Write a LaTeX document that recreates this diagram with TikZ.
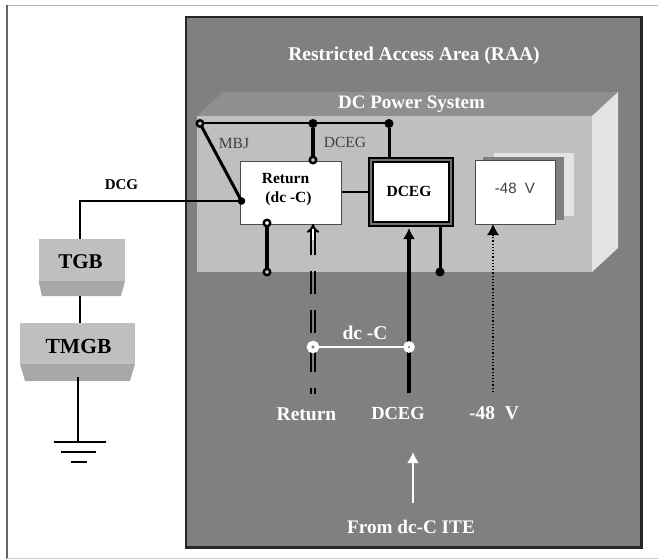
\documentclass[tikz,border=0pt]{standalone}
\usepackage{fontspec}
\setmainfont{Liberation Serif}
\newfontfamily\labelsans{Liberation Sans}
\usetikzlibrary{arrows.meta}
\definecolor{panelgray}{gray}{0.50}
\definecolor{lidgray}{gray}{0.56}
\definecolor{frontgray}{gray}{0.75}
\definecolor{sidegray}{gray}{0.89}
\definecolor{barfront}{gray}{0.75}
\definecolor{barlip}{gray}{0.66}
\tikzset{
  whitelabel/.style={text=white,font=\fontsize{#1}{#1}\selectfont\bfseries,inner sep=0pt},
  blacklabel/.style={text=black,font=\fontsize{#1}{#1}\selectfont\bfseries,inner sep=0pt},
  thinlabel/.style={text=black!75,font=\fontsize{#1}{#1}\selectfont,inner sep=0pt},
  wire/.style={black,line width=2pt},
  heavywire/.style={black,line width=3.4pt},
  pin/.style={circle,draw=black,fill=frontgray,line width=2.4pt,minimum size=6.5pt,inner sep=0pt},
  whitepin/.style={circle,draw=white,fill=panelgray,line width=4.4pt,minimum size=8pt,inner sep=0pt},
  plainbox/.style={draw=black!70,fill=white,line width=1pt,inner sep=0pt,anchor=north west},
  feedline/.style={black,line width=2pt,dash pattern=on 23pt off 16pt,dash phase=17pt},
}
\begin{document}
\begin{tikzpicture}[x=1pt,y=-1pt]
\useasboundingbox (0,0) rectangle (658,559);
% page frame
\draw[black!30,line width=1pt] (658,5.5) -- (7,5.5);
\draw[black!60,line width=1.2pt] (7,5.5) -- (7,559);
\draw[black!20,line width=1pt] (7,558) -- (658,558);
% restricted area
\draw[fill=panelgray,draw=black!85,line width=2.4pt] (186,17) rectangle (641.5,547.5);
\node[whitelabel=19.5] (raa) at (414,56) {Restricted Access Area (RAA)};
% cabinet
\fill[lidgray] (197,116) -- (223,92) -- (618,92) -- (592,116) -- cycle;
\fill[frontgray] (197,116) rectangle (592,272);
\fill[sidegray] (592,116) -- (618,92) -- (618,248) -- (592,272) -- cycle;
\node[whitelabel=19] (dcps) at (411.5,104) {DC Power System};
% ground bars
\fill[barfront] (38.5,239) rectangle (125,281);
\fill[barlip] (38.5,281) -- (125,281) -- (121,296) -- (42,296) -- cycle;
\node[blacklabel=21] (tgb) at (80.5,262) {TGB};
\fill[barfront] (20,323) rectangle (135,364);
\fill[barlip] (20,364) -- (135,364) -- (130,381) -- (25,381) -- cycle;
\node[blacklabel=21.5] (tmgb) at (78.5,346) {TMGB};
% boxes
\fill[sidegray] (494,153) rectangle (574,216);
\fill[black!50] (483,157) rectangle (564,220);
\node[plainbox,minimum width=80pt,minimum height=64pt] (neg) at (475,159.5) {};
\node[thinlabel=14,font=\labelsans\fontsize{15}{15}\selectfont] (negtext) at (515,188) {-48\ \ V};
\node[plainbox,minimum width=101pt,minimum height=63pt] (ret) at (240,160.5) {};
\node[blacklabel=15.5] (rettext) at (285.5,179) {Return};
\node[blacklabel=15.5] (dctext) at (288.5,199) {(dc -C)};
\node[draw=black,fill=white,line width=2.6pt,double=black!55,double distance=1.2pt,minimum width=80pt,minimum height=64pt,inner sep=0pt,anchor=center] (dceg) at (411,192) {};
\node[blacklabel=15.5] (dcegtext) at (409,191.5) {DCEG};
% bus
\coordinate (mbj) at (200,123.5);
\coordinate (busmid) at (313,123.5);
\coordinate (busend) at (389,123.5);
\coordinate (retleft) at (241.5,201);
\coordinate (dcgcorner) at (80,201);
\coordinate (groundtop) at (78,442);
\draw[wire] (mbj) -- (busend);
\draw[wire,line width=3pt] (mbj) -- (retleft);
\draw[wire] (retleft) -- (dcgcorner) -- (80,239);
\draw[wire] (80,296) -- (80,323);
\draw[wire] (78,377) -- (groundtop);
\draw[wire] (54,442) -- (106,442);
\draw[wire] (61,452) -- (96,452);
\draw[wire,line width=2.4pt] (71,462) -- (87,462);
\draw[wire] (ret.east |- dceg.west) -- (dceg.west);
\node[pin] (mbjdot) at (mbj) {};
\node[pin,fill=black] (busdot) at (busmid) {};
\node[pin,fill=black] (enddot) at (busend) {};
\node[pin,fill=black,minimum size=5pt] (retdot) at (retleft) {};
\node[pin] (rettop) at (313,160) {};
\draw[heavywire] (busdot) -- (rettop);
\draw[wire,line width=3pt] (enddot) -- (389,157);
\node[pin,fill=white] (retlow) at (267,223) {};
\node[pin] (retfoot) at (267,272) {};
\draw[heavywire] (retlow) -- (retfoot);
\node[pin,fill=black] (dcegfoot) at (440,272) {};
\draw[wire,line width=3pt] (440,227) -- (dcegfoot);
% feeds
\coordinate (retfeed) at (313,394);
\coordinate (dcegfeed) at (409,393);
\coordinate (negfeed) at (493,392);
\draw[feedline] ([xshift=-2pt]retfeed) -- (311,232);
\draw[feedline] ([xshift=2pt]retfeed) -- (315,232);
\draw[black,line width=2pt,double=white,double distance=2pt,-{Implies[length=9pt,width=14pt]}] (313,240) -- (313,224);
\draw[heavywire,line width=3.6pt,-{Latex[length=11pt,width=12pt]}] (dcegfeed) -- (409,228);
\draw[black,line width=1.2pt,dotted] (negfeed) -- (493,232);
\draw[black,line width=1.2pt,-{Latex[length=11pt,width=12pt]}] (493,236) -- (493,224);
% dc-C strap
\node[whitepin] (strapa) at (313,347) {};
\node[whitepin,minimum size=7pt] (strapb) at (409,347) {};
\draw[white,line width=2.6pt] (strapa) -- (strapb);
\node[whitelabel=19.5] (strap) at (365,333) {dc -C};
% labels
\node[blacklabel=15] (dcg) at (121.5,185) {DCG};
\node[thinlabel=15.5] (mbjtext) at (234,144) {MBJ};
\node[thinlabel=15.5] (dcegtop) at (345,142.5) {DCEG};
\node[whitelabel=19.5] (rtn) at (306.5,414) {Return};
\node[whitelabel=18.5] (dcegbot) at (398,413) {DCEG};
\node[whitelabel=19.5] (negbot) at (494,413) {-48\ \ V};
\coordinate (itetip) at (413,452);
\coordinate (itetail) at (413,503);
\draw[white,line width=2pt,-{Latex[length=11pt,width=12pt]}] (itetail) -- (itetip);
\node[whitelabel=19.2] (ite) at (411,527) {From dc-C ITE};
\end{tikzpicture}
\end{document}
